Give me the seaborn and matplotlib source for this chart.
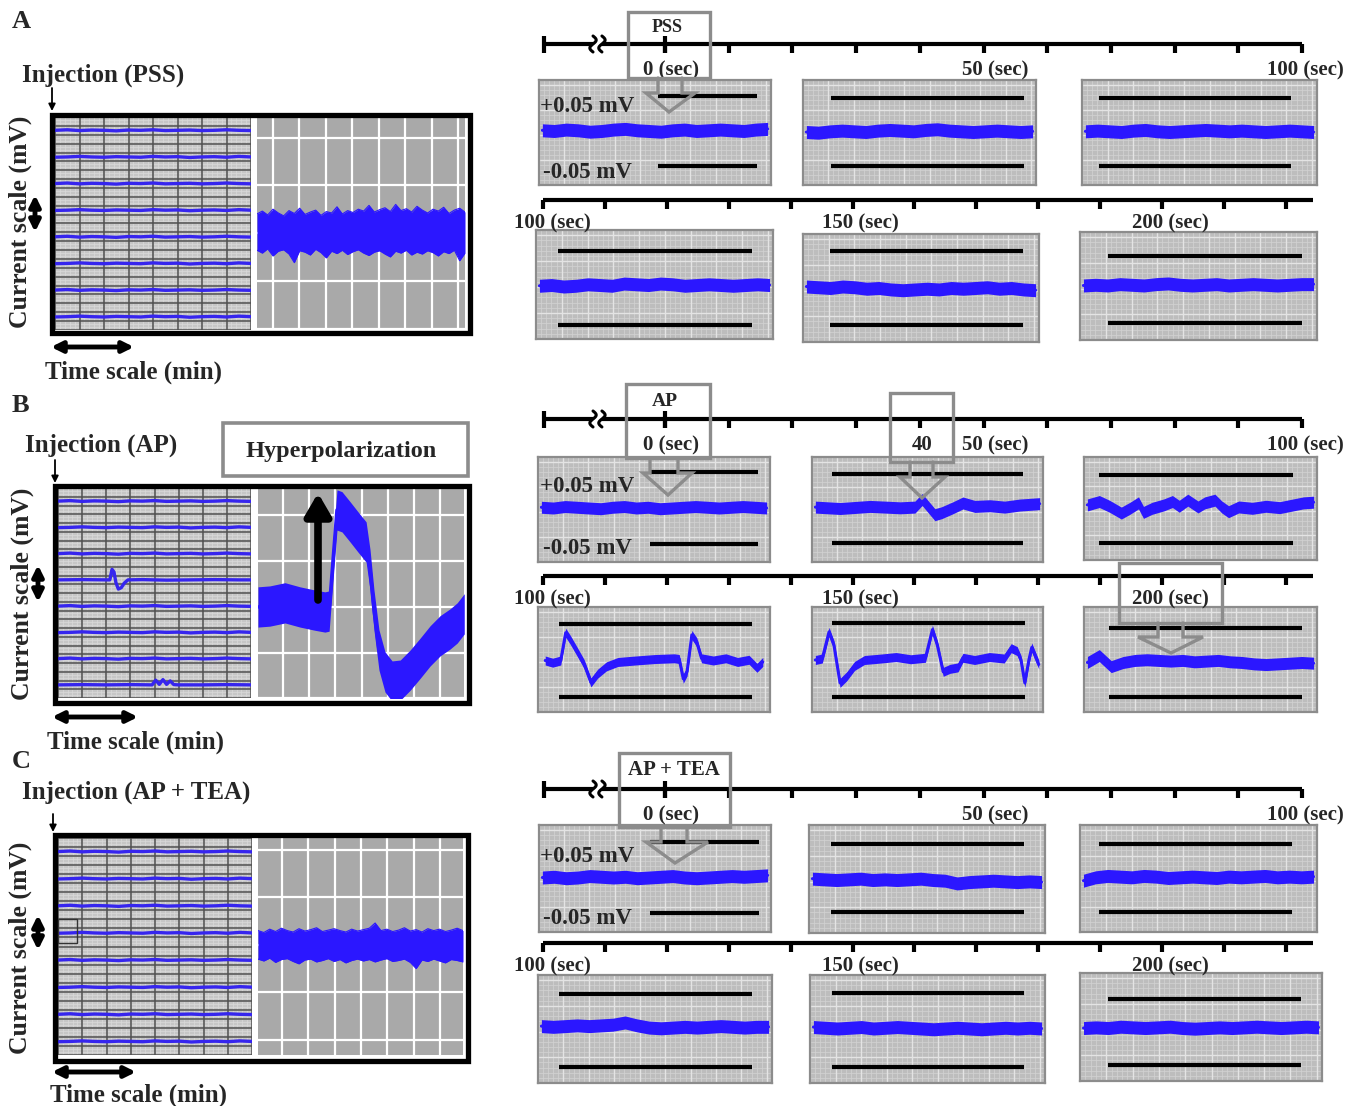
import matplotlib

matplotlib.use("Agg")
import matplotlib.pyplot as plt
import numpy as np
import seaborn as sns
from matplotlib.patches import Rectangle

sns.set_theme(style="white")
plt.rcParams["font.family"] = ["Liberation Serif", "DejaVu Serif"]
plt.rcParams["font.weight"] = "bold"

W, H = 1351, 1106
BLUE = "#2b17ff"
SWEEP_BLUE = "#3625ee"
BOX_GRAY = "#8c8c8c"

# ---------------- values ----------------
# overview sweeps (8 stacked), x in grid columns, y in sweep spacings
sweep_x = [0, 0.5, 1, 1.5, 2, 2.5, 3, 3.5, 4, 4.5, 5, 5.5, 6, 6.5, 7, 7.5, 8]
sweep_flat = [0.0, 0.02, -0.01, 0.01, 0.0, -0.02, 0.01, 0.0, 0.02,
              -0.01, 0.0, 0.01, -0.01, 0.0, 0.02, 0.0, -0.01]
b_sweep4_x = [0, 1, 2, 2.15, 2.24, 2.32, 2.4, 2.5, 2.62, 2.75, 2.9, 3.5,
              4.5, 5.5, 6.5, 7.5, 8]
b_sweep4_y = [0, 0.01, 0, 0, 0.4, 0.3, -0.1, -0.35, -0.3, -0.12, 0, 0.01,
              -0.01, 0, 0.01, 0, 0]
b_sweep8_x = [0, 1, 2, 3, 3.9, 4.05, 4.2, 4.35, 4.5, 4.65, 4.8, 5.0, 6, 7, 8]
b_sweep8_y = [0, 0.01, 0, 0.01, 0, 0.18, 0.02, 0.2, 0.02, 0.15, 0.01, 0, 0,
              0.01, 0]

# zoomed sweep right of each overview (grid divisions)
a_zoom_hi = [0.40, 0.46, 0.38, 0.50, 0.42, 0.36, 0.47, 0.41, 0.52, 0.39,
             0.44, 0.48, 0.37, 0.45, 0.42, 0.55, 0.40, 0.47, 0.43, 0.50,
             0.46, 0.58, 0.44, 0.49, 0.53, 0.45, 0.60, 0.47, 0.51, 0.44,
             0.56, 0.48, 0.42, 0.50, 0.46, 0.54, 0.41, 0.48, 0.52, 0.44]
a_zoom_lo = [-0.36, -0.42, -0.33, -0.48, -0.38, -0.35, -0.44, -0.62, -0.37,
             -0.40, -0.46, -0.34, -0.41, -0.52, -0.38, -0.43, -0.36, -0.45,
             -0.39, -0.35, -0.42, -0.47, -0.40, -0.37, -0.44, -0.50, -0.38,
             -0.42, -0.36, -0.46, -0.40, -0.44, -0.37, -0.41, -0.48, -0.39,
             -0.43, -0.36, -0.58, -0.42]
b_zoom_t = [-0.95, -0.5, 0.08, 0.65, 1.22, 1.6, 1.76, 1.91, 2.06, 2.25, 2.56,
            2.86, 3.17, 3.32, 3.47, 3.66, 3.89, 4.16, 4.47, 4.85, 5.23, 5.61,
            5.99, 6.37, 6.64, 6.91]
b_zoom_v = [0.0, 0.02, 0.09, 0.0, -0.07, -0.11, -0.09, 1.03, 2.12, 2.08, 1.86,
            1.64, 1.42, 0.81, -0.07, -0.94, -1.42, -1.62, -1.60, -1.38, -1.12,
            -0.85, -0.63, -0.48, -0.35, -0.15]
c_zoom_hi = [0.30, 0.26, 0.33, 0.28, 0.35, 0.30, 0.27, 0.34, 0.29, 0.32,
             0.36, 0.28, 0.31, 0.34, 0.30, 0.27, 0.33, 0.29, 0.32, 0.35,
             0.46, 0.30, 0.33, 0.28, 0.31, 0.36, 0.29, 0.32, 0.27, 0.34,
             0.30, 0.33, 0.28, 0.31, 0.35, 0.30]
c_zoom_lo = [-0.30, -0.34, -0.28, -0.37, -0.31, -0.29, -0.35, -0.40, -0.32,
             -0.30, -0.36, -0.33, -0.29, -0.35, -0.31, -0.38, -0.33, -0.30,
             -0.34, -0.31, -0.36, -0.32, -0.29, -0.35, -0.33, -0.30, -0.37,
             -0.50, -0.32, -0.35, -0.30, -0.34, -0.38, -0.31, -0.33, -0.36]

# 0-100 s / 100-200 s strips (mV around baseline)
a1 = [0.001, 0.0, 0.002, 0.001, -0.001, 0.0, 0.002, 0.003, 0.001, 0.0,
      -0.001, 0.001, 0.002, 0.0, 0.001, 0.002, 0.001, 0.0, 0.002, 0.003]
a2 = [0.0, -0.001, 0.001, 0.002, 0.001, 0.0, 0.002, 0.003, 0.002, 0.001,
      0.003, 0.004, 0.002, 0.001, 0.0, 0.001, 0.002, 0.001, 0.0, 0.001]
a3 = [0.001, 0.002, 0.001, 0.0, 0.002, 0.003, 0.001, 0.0, 0.001, 0.002,
      0.003, 0.002, 0.001, 0.002, 0.001, 0.0, 0.001, 0.002, 0.001, 0.0]
a4 = [0.003, 0.004, 0.002, 0.003, 0.005, 0.004, 0.003, 0.006, 0.005, 0.004,
      0.006, 0.005, 0.003, 0.004, 0.005, 0.004, 0.003, 0.004, 0.005, 0.004]
a5 = [0.002, 0.001, 0.0, 0.002, 0.001, -0.001, 0.0, -0.002, -0.003, -0.002,
      -0.001, -0.002, 0.0, -0.001, 0.0, 0.001, -0.001, 0.0, -0.002, -0.003]
a6 = [0.006, 0.007, 0.006, 0.008, 0.007, 0.006, 0.008, 0.009, 0.007, 0.006,
      0.007, 0.008, 0.006, 0.007, 0.008, 0.007, 0.006, 0.007, 0.008, 0.008]

b1 = [0.001, 0.0, 0.002, 0.001, 0.0, -0.001, 0.001, 0.002, 0.0, 0.001,
      -0.001, 0.0, 0.001, 0.002, 0.001, 0.0, 0.001, 0.002, 0.001, 0.0]
b2_t = [0.0, 0.111, 0.244, 0.378, 0.444, 0.476, 0.502, 0.533, 0.564, 0.613,
        0.658, 0.711, 0.778, 0.844, 0.911, 1.0]
b2_v = [0.002, 0.0, 0.003, 0.001, 0.002, 0.013, 0.003, -0.009, -0.006, 0.001,
        0.008, 0.003, 0.004, 0.002, 0.005, 0.007]
b3_t = [0.0, 0.053, 0.098, 0.15, 0.188, 0.226, 0.248, 0.286, 0.338, 0.376,
        0.406, 0.444, 0.489, 0.519, 0.564, 0.594, 0.624, 0.669, 0.729, 0.789,
        0.85, 0.91, 0.955, 1.0]
b3_v = [0.006, 0.011, 0.004, -0.006, 0.001, 0.009, -0.005, 0.001, 0.006,
        0.011, 0.004, 0.013, 0.003, 0.009, 0.013, 0.003, -0.004, 0.003, 0.001,
        0.004, 0.002, 0.006, 0.009, 0.01]
b4_t = [0.017, 0.05, 0.086, 0.108, 0.129, 0.159, 0.19, 0.22, 0.25, 0.289,
        0.34, 0.418, 0.504, 0.59, 0.612, 0.63, 0.647, 0.668, 0.69, 0.711,
        0.763, 0.819, 0.871, 0.922, 0.957, 0.983]
b4_v = [0.0, -0.003, 0.0, 0.038, 0.028, 0.012, -0.005, -0.030, -0.018, -0.008,
        -0.002, 0.0, 0.002, 0.003, 0.002, -0.025, -0.015, 0.035, 0.025, 0.003,
        0.0, 0.003, -0.002, 0.001, -0.01, -0.002]
b5_t = [0.0, 0.031, 0.061, 0.083, 0.11, 0.14, 0.175, 0.219, 0.294, 0.36,
        0.425, 0.491, 0.522, 0.544, 0.57, 0.6, 0.636, 0.658, 0.71, 0.776,
        0.842, 0.873, 0.9, 0.917, 0.934, 0.952, 0.965, 0.996]
b5_v = [0.0, 0.002, 0.038, 0.02, -0.031, -0.022, -0.008, 0.0, 0.002, 0.004,
        0.001, 0.003, 0.041, 0.02, -0.016, -0.012, -0.01, 0.003, 0.0, 0.004,
        0.002, 0.016, 0.012, 0.0, -0.031, 0.0, 0.017, -0.006]
b6 = [0.0, 0.010, -0.006, 0.0, 0.003, 0.004, 0.003, 0.002, 0.003, 0.001,
      0.002, 0.003, 0.001, 0.0, -0.002, -0.003, -0.002, -0.001, 0.0, -0.001]

c1 = [0.0, 0.001, -0.001, 0.0, 0.002, 0.001, 0.0, 0.001, -0.001, 0.0,
      0.001, 0.002, 0.0, -0.001, 0.0, 0.001, 0.002, 0.001, 0.002, 0.003]
c2 = [-0.001, -0.002, -0.003, -0.002, -0.001, -0.003, -0.002, -0.003, -0.002,
      -0.001, -0.003, -0.004, -0.008, -0.006, -0.005, -0.004, -0.005, -0.006,
      -0.005, -0.006]
c3 = [-0.004, 0.001, 0.003, 0.002, 0.001, 0.003, 0.002, 0.0, 0.001, 0.002,
      0.001, 0.0, 0.002, 0.001, 0.002, 0.003, 0.001, 0.002, 0.001, 0.002]
c4 = [0.006, 0.005, 0.006, 0.007, 0.006, 0.007, 0.008, 0.011, 0.007, 0.004,
      0.003, 0.004, 0.005, 0.004, 0.005, 0.006, 0.005, 0.004, 0.005, 0.005]
c5 = [0.004, 0.003, 0.002, 0.003, 0.004, 0.002, 0.003, 0.004, 0.003, 0.002,
      0.001, 0.002, 0.003, 0.002, 0.001, 0.002, 0.003, 0.002, 0.003, 0.002]
c6 = [0.006, 0.007, 0.006, 0.008, 0.007, 0.006, 0.007, 0.008, 0.006, 0.005,
      0.006, 0.007, 0.006, 0.007, 0.008, 0.007, 0.006, 0.007, 0.008, 0.007]

# time axis
top_ticks = [0, 10, 20, 30, 40, 50, 60, 70, 80, 90, 100]
bottom_ticks = [100, 110, 120, 130, 140, 150, 160, 170, 180, 190, 200, 210, 220]
top_labels = ["0 (sec)", "50 (sec)", "100 (sec)"]
bottom_labels = ["100 (sec)", "150 (sec)", "200 (sec)"]

fig = plt.figure(figsize=(W / 100, H / 100), dpi=100)
ov = fig.add_axes([0, 0, 1, 1], zorder=10)
ov.set_xlim(0, W)
ov.set_ylim(H, 0)
ov.axis("off")


def px_axes(x0, y0, x1, y1, z=1):
    return fig.add_axes([x0 / W, 1 - y1 / H, (x1 - x0) / W, (y1 - y0) / H], zorder=z)


def clean(ax, edge=None, lw=1.5):
    ax.set_xticks([])
    ax.set_yticks([])
    ax.set(xlabel=None, ylabel=None)
    for s in ax.spines.values():
        if edge is None:
            s.set_visible(False)
        else:
            s.set_visible(True)
            s.set_color(edge)
            s.set_linewidth(lw)


def overview_left(x0, x1, y0, y1, sweeps):
    ax = px_axes(x0, y0, x1, y1)
    ax.set_facecolor("#c6c6c6")
    ax.vlines(np.linspace(0, 1, 41), 0, 1, transform=ax.transAxes,
              color="#dadada", lw=0.5, zorder=0.5)
    ax.hlines(np.linspace(0, 1, 73), 0, 1, transform=ax.transAxes,
              color="#dadada", lw=0.5, zorder=0.5)
    ax.vlines(range(9), 0, 8, color="#4f4f4f", lw=1.1, zorder=0.6)
    ax.hlines(np.arange(0, 8.01, 1 / 3), 0, 8, color="#4f4f4f", lw=1.1, zorder=0.6)
    for i, (sx, sy) in enumerate(sweeps):
        sns.lineplot(x=sx, y=np.array(sy) + 7.5 - i, ax=ax, color=SWEEP_BLUE,
                     lw=2.4, sort=False, zorder=3)
    ax.set_xlim(0, 8)
    ax.set_ylim(0, 8)
    clean(ax)
    return ax


def overview_zoom(x0, x1, y0, y1, xlim, ylim, vgrid, hgrid):
    ax = px_axes(x0, y0, x1, y1)
    ax.set_facecolor("#a9a9a9")
    ax.vlines(vgrid, ylim[0], ylim[1], color="white", lw=1.6, zorder=0.5)
    ax.hlines(hgrid, xlim[0], xlim[1], color="white", lw=1.6, zorder=0.5)
    ax.set_xlim(*xlim)
    ax.set_ylim(*ylim)
    clean(ax)
    return ax


def strip_panel(box, v, t=None, half_px=6.0):
    x0, y0, x1, y1, ly0, ly1, lx0, lx1 = box
    ax = px_axes(x0, y0, x1, y1)
    scale = (ly1 - ly0) / 0.1
    mid = (ly0 + ly1) / 2
    ax.set_facecolor("#bdbdbd")
    fx = np.linspace(0, 1, 47)
    fy = np.linspace(0, 1, 22)
    ax.vlines(fx, 0, 1, transform=ax.transAxes, color="#d3d3d3", lw=0.5, zorder=0.5)
    ax.hlines(fy, 0, 1, transform=ax.transAxes, color="#d3d3d3", lw=0.5, zorder=0.5)
    ax.vlines(fx[::5], 0, 1, transform=ax.transAxes, color="#e4e4e4", lw=1.0, zorder=0.6)
    ax.hlines(fy[::5], 0, 1, transform=ax.transAxes, color="#e4e4e4", lw=1.0, zorder=0.6)
    xl = (-0.015, 1.015)
    ax.set_xlim(*xl)
    ax.set_ylim(-(y1 - mid) / scale, (mid - y0) / scale)
    to_x = lambda p: xl[0] + (p - x0) / (x1 - x0) * (xl[1] - xl[0])
    ax.hlines([0.05, -0.05], to_x(lx0), to_x(lx1), color="black", lw=3.0, zorder=4)
    if t is None:
        t = np.linspace(0, 1, len(v))
    v = np.array(v)
    half = half_px / scale
    ax.fill_between(t, v - half, v + half, color=BLUE, lw=0, zorder=2)
    sns.lineplot(x=t, y=v, ax=ax, color=BLUE, lw=2.2, sort=False, zorder=3)
    clean(ax, BOX_GRAY, 1.6)
    return ax


def timeline(y_line, top=True):
    ax = px_axes(530, y_line - 16, 1322, y_line + 16, z=2)
    ax.set_ylim(16, -16)
    if top:
        ax.set_xlim((530 - 665) / 6.37, (1322 - 665) / 6.37)
        ax.hlines(0, -19, -11.3, color="black", lw=3)
        ax.vlines(-19, -8, 9, color="black", lw=3)
        ax.hlines(0, -9.9, top_ticks[-1], color="black", lw=3)
        ax.vlines(top_ticks, 0, 9, color="black", lw=3)
        ax.vlines(0, -8, 9, color="black", lw=3)
        s_y = np.linspace(-8, 8, 25)
        for c in (-11.3, -9.9):
            ax.plot(c - 0.5 * np.sin(np.pi * s_y / 8), s_y, color="black", lw=2.2)
        for lab, pos in zip(top_labels, [0.9, 51.8, 100.5]):
            ax.text(pos, 26, lab, ha="center", va="center", fontsize=15,
                    clip_on=False)
    else:
        ax.set_xlim(100 + (530 - 543) / 6.19, 100 + (1322 - 543) / 6.19)
        ax.hlines(0, 100, 224.4, color="black", lw=3)
        ax.vlines(bottom_ticks, 0, 9, color="black", lw=3)
        for lab, pos in zip(bottom_labels, [101.5, 151.3, 201.3]):
            ax.text(pos, 23, lab, ha="center", va="center", fontsize=15,
                    clip_on=False)
    ax.axis("off")
    return ax


def label_box(box, shaft, head, head_y, tip, text, text_xy, fs=14):
    x0, y0, x1, y1 = box
    ov.add_patch(Rectangle((x0, y0), x1 - x0, y1 - y0, fill=False,
                           ec=BOX_GRAY, lw=2.4))
    ov.plot([shaft[0], shaft[0], head[0], tip[0], head[1], shaft[1], shaft[1]],
            [y1, head_y, head_y, tip[1], head_y, head_y, y1],
            color=BOX_GRAY, lw=2.4, solid_joinstyle="miter")
    ov.text(*text_xy, text, ha="center", va="center", fontsize=fs)


def left_labels(letter, ly, inj, inj_xy, inj_arrow, outer, cs_xy, cs_arrow,
                ts_arrow, ts_xy):
    ov.text(12, ly, letter, ha="left", va="center", fontsize=19)
    ov.text(*inj_xy, inj, ha="left", va="center", fontsize=18)
    ax_, a0, a1_ = inj_arrow
    ov.annotate("", xy=(ax_, a1_), xytext=(ax_, a0),
                arrowprops=dict(arrowstyle="-|>", color="black", lw=1.3,
                                mutation_scale=10, shrinkA=0, shrinkB=0))
    x0, y0, x1, y1 = outer
    ov.add_patch(Rectangle((x0 + 2.5, y0 + 2.5), x1 - x0 - 5, y1 - y0 - 5,
                           fill=False, ec="black", lw=3.8))
    ov.text(*cs_xy, "Current scale (mV)", rotation=90, ha="center",
            va="center", fontsize=18.5)
    cx, c0, c1 = cs_arrow
    ov.annotate("", xy=(cx, c0), xytext=(cx, c1),
                arrowprops=dict(arrowstyle="<|-|>", color="black", lw=3.5,
                                mutation_scale=16, shrinkA=0, shrinkB=0))
    t0, t1, ty = ts_arrow
    ov.annotate("", xy=(t0, ty), xytext=(t1, ty),
                arrowprops=dict(arrowstyle="<|-|>", color="black", lw=3.5,
                                mutation_scale=16, shrinkA=0, shrinkB=0))
    ov.text(*ts_xy, "Time scale (min)", ha="left", va="center", fontsize=18)


def mv_labels(y_plus, y_minus):
    ov.text(540, y_plus, "+0.05 mV", ha="left", va="center", fontsize=16.5)
    ov.text(543, y_minus, "-0.05 mV", ha="left", va="center", fontsize=16.5)


flat_sweeps = [(sweep_x, sweep_flat if i % 2 == 0 else sweep_flat[::-1])
               for i in range(8)]

# ---------------- A : PSS ----------------
left_labels("A", 22, "Injection (PSS)", (22, 75), (52, 88, 111),
            (49, 112, 472, 335), (20, 222), (35, 195, 232), (51, 134, 347),
            (45, 372))
overview_left(55, 251, 117, 330, flat_sweeps)
ax = overview_zoom(257, 465, 117, 330, (-0.6, 7.25), (-2.03, 2.43),
                   range(0, 8), [-2, -1, 0, 1, 2])
zx = np.linspace(-0.6, 7.25, len(a_zoom_hi))
ax.fill_between(zx, a_zoom_lo, a_zoom_hi, color=BLUE, lw=0, zorder=2)
sns.lineplot(x=zx, y=a_zoom_hi, ax=ax, color=BLUE, lw=0.8, zorder=3)
sns.lineplot(x=zx, y=a_zoom_lo, ax=ax, color=BLUE, lw=0.8, zorder=3)
clean(ax)

timeline(44, top=True)
timeline(200, top=False)
strip_panel((539, 80, 771, 185, 96, 166, 658, 757), a1, half_px=6.5)
strip_panel((803, 80, 1036, 185, 98, 166, 831, 1024), a2, half_px=6.5)
strip_panel((1082, 80, 1317, 185, 98, 166, 1099, 1291), a3, half_px=6.5)
strip_panel((536, 230, 773, 339, 251, 325, 558, 752), a4, half_px=6.5)
strip_panel((803, 234, 1039, 342, 251, 325, 830, 1023), a5, half_px=6.5)
strip_panel((1080, 232, 1317, 340, 256, 323, 1108, 1302), a6, half_px=6.5)
mv_labels(107, 172)
label_box((628, 12, 710, 78), (658, 682), (646, 695), 93, (669, 112), "PSS",
          (667, 27), fs=13)

# ---------------- B : AP ----------------
left_labels("B", 405, "Injection (AP)", (25, 445), (55, 460, 483),
            (52, 483, 471, 705), (22, 594), (38, 565, 602), (52, 138, 717),
            (47, 742))
b_sweeps = list(flat_sweeps)
b_sweeps[3] = (b_sweep4_x, b_sweep4_y)
b_sweeps[7] = (b_sweep8_x, b_sweep8_y)
overview_left(58, 251, 488, 698, b_sweeps)
ax = overview_zoom(258, 464, 488, 698, (-0.95, 6.9), (-1.99, 2.6),
                   range(0, 7), [-2, -1, 0, 1, 2])
bv = np.array(b_zoom_v)
ax.fill_between(b_zoom_t, bv - 0.44, bv + 0.44, color=BLUE, lw=0, zorder=2)
sns.lineplot(x=b_zoom_t, y=bv, ax=ax, color=BLUE, lw=2.5, sort=False, zorder=3)
clean(ax)
ov.add_patch(Rectangle((223, 423), 245, 53, fc="white", ec=BOX_GRAY, lw=2.6))
ov.text(341, 452, "Hyperpolarization", ha="center", va="center", fontsize=17.5)
ov.annotate("", xy=(318, 493), xytext=(318, 600),
            arrowprops=dict(arrowstyle="-|>,head_width=0.35,head_length=0.6",
                            color="black", lw=5.5, mutation_scale=22,
                            shrinkA=0, shrinkB=0))

timeline(419, top=True)
timeline(576, top=False)
strip_panel((538, 457, 770, 562, 472, 544, 650, 758), b1)
strip_panel((812, 457, 1043, 562, 474, 543, 832, 1023), b2_v, t=b2_t)
strip_panel((1084, 457, 1317, 560, 475, 543, 1099, 1293), b3_v, t=b3_t)
strip_panel((538, 607, 770, 712, 624, 697, 559, 752), b4_v, t=b4_t, half_px=4.5)
strip_panel((812, 607, 1043, 712, 623, 697, 832, 1025), b5_v, t=b5_t, half_px=4.5)
strip_panel((1084, 607, 1317, 712, 628, 697, 1109, 1302), b6)
mv_labels(486, 549)
label_box((626, 384, 710, 458), (650, 678), (643, 692), 473, (668, 495), "AP",
          (665, 402), fs=14)
label_box((890, 393, 953, 462), (910, 933), (900, 945), 477, (922, 498), "40",
          (922, 445), fs=15)
label_box((1119, 563, 1222, 623), (1158, 1183), (1138, 1203), 637, (1171, 653),
          "", (1170, 598))

# ---------------- C : AP + TEA ----------------
left_labels("C", 762, "Injection (AP + TEA)", (22, 792), (53, 814, 832),
            (52, 832, 470, 1063), (20, 948), (38, 915, 950), (52, 136, 1072),
            (50, 1095))
overview_left(58, 252, 838, 1055, flat_sweeps)
ov.add_patch(Rectangle((58, 919), 19, 24, fill=False, ec="#333333", lw=1.0))
ax = overview_zoom(258, 463, 838, 1055, (-0.91, 6.88), (-2.32, 2.25),
                   range(0, 7), [-2, -1, 0, 1, 2])
cx = np.linspace(-0.91, 6.88, len(c_zoom_hi))
ax.fill_between(cx, c_zoom_lo, c_zoom_hi, color=BLUE, lw=0, zorder=2)
sns.lineplot(x=cx, y=c_zoom_hi, ax=ax, color=BLUE, lw=0.8, zorder=3)
sns.lineplot(x=cx, y=c_zoom_lo, ax=ax, color=BLUE, lw=0.8, zorder=3)
clean(ax)

timeline(789, top=True)
timeline(943, top=False)
strip_panel((539, 825, 771, 932, 842, 913, 650, 759), c1, half_px=6.5)
strip_panel((809, 825, 1045, 933, 844, 912, 831, 1024), c2, half_px=6.5)
strip_panel((1080, 825, 1317, 932, 844, 912, 1099, 1292), c3, half_px=6.5)
strip_panel((538, 975, 772, 1083, 994, 1067, 559, 752), c4, half_px=6.5)
strip_panel((810, 975, 1045, 1083, 993, 1067, 832, 1024), c5, half_px=6.5)
strip_panel((1080, 973, 1322, 1081, 999, 1065, 1108, 1301), c6, half_px=6.5)
mv_labels(856, 919)
label_box((619, 753, 730, 827), (661, 687), (646, 708), 842, (675, 863),
          "AP + TEA", (674, 770), fs=15)

fig.savefig("out.png", dpi=100)
